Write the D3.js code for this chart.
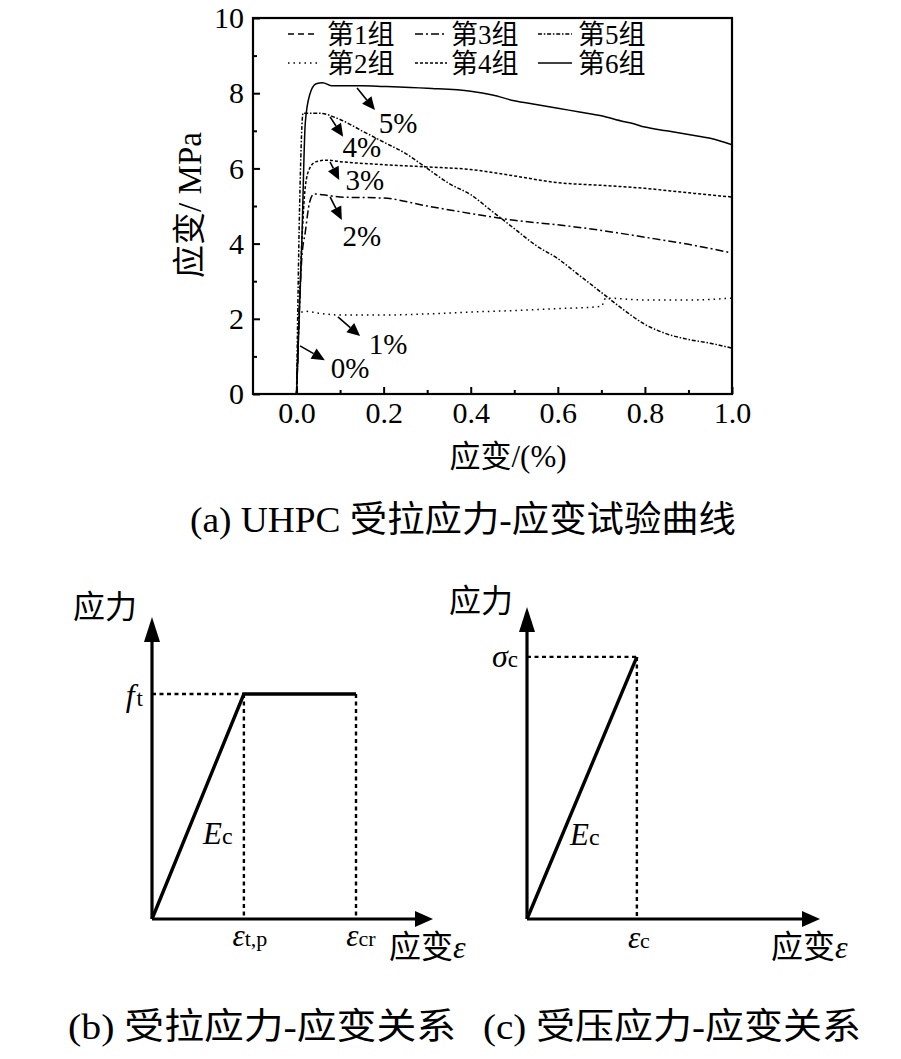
<!DOCTYPE html>
<html><head><meta charset="utf-8">
<script src="https://cdn.jsdelivr.net/npm/d3@7"></script>
<style>
body{margin:0;background:#fff}
svg{display:block}
text{font-family:"Liberation Serif","Times New Roman","Noto Sans CJK SC",serif;fill:#000}
</style>
</head><body>
<svg id="c" width="901" height="1059"></svg>
<script>
// ---------------- data (panel a) ----------------
const groupNames = ["第1组","第2组","第3组","第4组","第5组","第6组"];
const pctLabels  = ["0%","1%","2%","3%","4%","5%"];
const xMajorTicks = [0,0.2,0.4,0.6,0.8,1.0];
const xMinorTicks = [0.1,0.3,0.5,0.7,0.9];
const yMajorTicks = [0,2,4,6,8,10];
const yMinorTicks = [1,3,5,7,9];

const g1 = [[0,0],[0.002,0.6],[0.004,1.3]];
const g2 = [[0,0],[0.004,1.6],[0.008,2.15],[0.02,2.2],[0.05,2.15],[0.1,2.1],[0.2,2.1],[0.3,2.13],[0.4,2.18],[0.5,2.22],[0.6,2.27],[0.7,2.33],[0.71,2.55],[0.8,2.5],[0.9,2.5],[1.0,2.55]];
const g3 = [[0,0],[0.012,3.6],[0.02,4.3],[0.03,5.1],[0.04,5.32],[0.06,5.3],[0.1,5.24],[0.2,5.21],[0.3,5.0],[0.4,4.8],[0.5,4.62],[0.6,4.5],[0.7,4.35],[0.8,4.17],[0.9,3.98],[1.0,3.75]];
const g4 = [[0,0],[0.012,4.0],[0.02,5.5],[0.03,6.0],[0.045,6.18],[0.07,6.22],[0.1,6.18],[0.2,6.1],[0.3,6.04],[0.4,5.97],[0.5,5.8],[0.6,5.62],[0.7,5.55],[0.8,5.47],[0.9,5.35],[1.0,5.24]];
const g5 = [[0,0],[0.008,5.5],[0.015,7.47],[0.05,7.47],[0.1,7.3],[0.15,7.0],[0.2,6.7],[0.25,6.4],[0.3,6.0],[0.35,5.6],[0.4,5.3],[0.45,4.85],[0.5,4.4],[0.55,3.95],[0.6,3.6],[0.65,3.15],[0.7,2.7],[0.75,2.25],[0.8,1.85],[0.85,1.6],[0.9,1.45],[0.95,1.35],[1.0,1.22]];
const g6 = [[0,0],[0.012,4.0],[0.02,7.2],[0.03,7.95],[0.045,8.25],[0.06,8.28],[0.08,8.2],[0.15,8.2],[0.2,8.18],[0.3,8.13],[0.4,8.05],[0.45,7.95],[0.5,7.8],[0.55,7.7],[0.6,7.6],[0.65,7.5],[0.7,7.4],[0.75,7.25],[0.77,7.2],[0.8,7.1],[0.85,7.0],[0.9,6.9],[0.95,6.8],[1.0,6.63]];
const groups = [g1,g2,g3,g4,g5,g6];
const dashes = ["6,4","1.5,4","8,3,2,3","3,2","4,1.8,1.5,1.8",null];

// annotation arrows: [from, tip, label] in data units
const annStart = [[0.008,1.28],[0.095,2.05],[0.077,5.24],[0.077,6.17],[0.077,7.37],[0.139,8.14]];
const annTip   = [[0.065,0.90],[0.146,1.54],[0.104,4.63],[0.098,5.69],[0.107,6.84],[0.180,7.55]];
const annText  = [[0.123,0.69],[0.210,1.33],[0.150,4.20],[0.157,5.69],[0.150,6.57],[0.233,7.21]];

// ---------------- data (panels b, c; schematic units) ----------------
const tensPts = [[0,0],[3.27,7.45],[7.26,7.45]];
const compPts = [[0,0],[3.75,8.4]];

const svg = d3.select("#c");

// ---------------- panel a ----------------
const x = d3.scaleLinear().domain([-0.1,1.0]).range([253,732]);
const y = d3.scaleLinear().domain([0,10]).range([394,18]);

const gA = svg.append("g");

const line = d3.line().x(d=>x(d[0])).y(d=>y(d[1])).curve(d3.curveMonotoneX);
groups.forEach((g,i)=>{
  gA.append("path").attr("d",line(g)).attr("fill","none").attr("stroke","#000")
    .attr("stroke-width",1.5).attr("stroke-dasharray",dashes[i]);
});

const xAxisMajor = d3.axisBottom(x).tickValues(xMajorTicks).tickSize(-7).tickPadding(8).tickFormat(d3.format(".1f"));
const xAxisMinor = d3.axisBottom(x).tickValues(xMinorTicks).tickSize(-4).tickFormat("");
const yAxisMajor = d3.axisLeft(y).tickValues(yMajorTicks).tickSize(-7).tickPadding(9).tickFormat(d3.format("d"));
const yAxisMinor = d3.axisLeft(y).tickValues(yMinorTicks).tickSize(-4).tickFormat("");

function styleAxis(g){
  g.attr("font-family",null);
  g.select(".domain").remove();
  g.selectAll("line").attr("stroke","#000").attr("stroke-width",2);
  g.selectAll("text").attr("font-size",30);
}
gA.append("g").attr("transform","translate(0,394)").call(xAxisMajor).call(styleAxis);
gA.append("g").attr("transform","translate(0,394)").call(xAxisMinor).call(styleAxis);
gA.append("g").attr("transform","translate(253,0)").call(yAxisMajor).call(styleAxis);
gA.append("g").attr("transform","translate(253,0)").call(yAxisMinor).call(styleAxis);

gA.append("rect").attr("x",x(-0.1)).attr("y",y(10)).attr("width",x(1.0)-x(-0.1)).attr("height",y(0)-y(10))
  .attr("fill","none").attr("stroke","#000").attr("stroke-width",2.2);

gA.append("text").attr("x",508).attr("y",456).attr("text-anchor","middle").attr("dominant-baseline","central")
  .attr("font-size",31).text("应变/(%)");
gA.append("text").attr("transform","translate(190,205) rotate(-90)").attr("text-anchor","middle")
  .attr("dominant-baseline","central").attr("font-size",33).text("应变/ MPa");

// legend
const legCols = [[288,317,327],[415,447,451],[538,572,578]];
const legRows = [34,63];
groupNames.forEach((n,i)=>{
  const c = Math.floor(i/2), r = i%2;
  const lc = legCols[c], ly = legRows[r];
  gA.append("line").attr("x1",lc[0]).attr("x2",lc[1]).attr("y1",ly).attr("y2",ly)
    .attr("stroke","#000").attr("stroke-width",1.5).attr("stroke-dasharray",dashes[i]);
  gA.append("text").attr("x",lc[2]).attr("y",ly+1).attr("dominant-baseline","central")
    .attr("font-size",27).text(n);
});

function arrow(g, x1,y1,x2,y2, len, hw, width){
  const dx=x2-x1, dy=y2-y1, L=Math.hypot(dx,dy), ux=dx/L, uy=dy/L;
  const bx=x2-ux*len, by=y2-uy*len;
  g.append("line").attr("x1",x1).attr("y1",y1).attr("x2",bx).attr("y2",by)
    .attr("stroke","#000").attr("stroke-width",width);
  g.append("polygon").attr("points",[[x2,y2],[bx-uy*hw,by+ux*hw],[bx+uy*hw,by-ux*hw]].map(p=>p.join(",")).join(" "))
    .attr("fill","#000");
}
pctLabels.forEach((t,i)=>{
  arrow(gA, x(annStart[i][0]),y(annStart[i][1]),x(annTip[i][0]),y(annTip[i][1]),13,6,1.6);
  gA.append("text").attr("x",x(annText[i][0])).attr("y",y(annText[i][1])).attr("text-anchor","middle")
    .attr("dominant-baseline","central").attr("font-size",29).text(t);
});

svg.append("text").attr("x",463).attr("y",520).attr("text-anchor","middle").attr("dominant-baseline","central")
  .attr("font-size",36).attr("textLength",546).attr("lengthAdjust","spacingAndGlyphs").text("(a) UHPC 受拉应力-应变试验曲线");

// ---------------- schematic panels ----------------
function axesArrows(g, sx, sy){
  const x0=sx(0), y0=sy(0), xe=sx(10), ye=sy(10);
  g.append("line").attr("x1",x0).attr("y1",y0).attr("x2",x0).attr("y2",ye+20).attr("stroke","#000").attr("stroke-width",3.2);
  g.append("line").attr("x1",x0).attr("y1",y0).attr("x2",xe-15).attr("y2",y0).attr("stroke","#000").attr("stroke-width",3.2);
  g.append("polygon").attr("points",`${x0},${ye} ${x0-8},${ye+25} ${x0+8},${ye+25}`).attr("fill","#000");
  g.append("polygon").attr("points",`${xe},${y0} ${xe-18},${y0-8} ${xe-18},${y0+8}`).attr("fill","#000");
}
function epsLabel(g, xc, yb, sub){
  const t = g.append("text").attr("x",xc).attr("y",yb).attr("text-anchor","middle");
  t.append("tspan").attr("font-style","italic").attr("font-size",31).text("ε");
  t.append("tspan").attr("font-size",22).text(sub);
}
function ecLabel(g, xl, yb){
  const t = g.append("text").attr("x",xl).attr("y",yb);
  t.append("tspan").attr("font-style","italic").attr("font-size",31).text("E");
  t.append("tspan").attr("font-size",24).text("c");
}
function strainTitle(g, xl, yb){
  const t = g.append("text").attr("x",xl).attr("y",yb).attr("font-size",32);
  t.append("tspan").text("应变");
  t.append("tspan").attr("font-style","italic").text("ε");
}

// panel b
const xb = d3.scaleLinear().domain([0,10]).range([152,433]);
const yb = d3.scaleLinear().domain([0,10]).range([919,617]);
const gB = svg.append("g");
const dashS = "4,3.5";
gB.append("line").attr("x1",xb(0)).attr("x2",xb(tensPts[1][0])).attr("y1",yb(tensPts[1][1])).attr("y2",yb(tensPts[1][1]))
  .attr("stroke","#000").attr("stroke-width",2.4).attr("stroke-dasharray",dashS);
[1,2].forEach(k=>{
  gB.append("line").attr("x1",xb(tensPts[k][0])).attr("x2",xb(tensPts[k][0])).attr("y1",yb(tensPts[k][1])).attr("y2",yb(0))
    .attr("stroke","#000").attr("stroke-width",2.4).attr("stroke-dasharray",dashS);
});
axesArrows(gB, xb, yb);
gB.append("path").attr("d",d3.line().x(d=>xb(d[0])).y(d=>yb(d[1]))(tensPts)).attr("fill","none")
  .attr("stroke","#000").attr("stroke-width",3.4).attr("stroke-linejoin","miter");
gB.append("text").attr("x",105).attr("y",607).attr("text-anchor","middle").attr("dominant-baseline","central")
  .attr("font-size",32).text("应力");
{
  const t = gB.append("text").attr("x",xb(0)-9).attr("y",yb(tensPts[1][1])+12).attr("text-anchor","end");
  t.append("tspan").attr("font-style","italic").attr("font-size",32).text("f");
  t.append("tspan").attr("font-size",23).attr("dx",2).text("t");
}
ecLabel(gB, 203, 844);
epsLabel(gB, xb(tensPts[1][0])+6, 946, "t,p");
epsLabel(gB, xb(tensPts[2][0])+5, 946, "cr");
strainTitle(gB, 389, 958);

// panel c
const xc = d3.scaleLinear().domain([0,10]).range([527,820]);
const yc = d3.scaleLinear().domain([0,10]).range([919,607]);
const gC = svg.append("g");
gC.append("line").attr("x1",xc(0)).attr("x2",xc(compPts[1][0])).attr("y1",yc(compPts[1][1])).attr("y2",yc(compPts[1][1]))
  .attr("stroke","#000").attr("stroke-width",2.4).attr("stroke-dasharray",dashS);
gC.append("line").attr("x1",xc(compPts[1][0])).attr("x2",xc(compPts[1][0])).attr("y1",yc(compPts[1][1])).attr("y2",yc(0))
  .attr("stroke","#000").attr("stroke-width",2.4).attr("stroke-dasharray",dashS);
axesArrows(gC, xc, yc);
gC.append("path").attr("d",d3.line().x(d=>xc(d[0])).y(d=>yc(d[1]))(compPts)).attr("fill","none")
  .attr("stroke","#000").attr("stroke-width",3.4);
gC.append("text").attr("x",481).attr("y",601).attr("text-anchor","middle").attr("dominant-baseline","central")
  .attr("font-size",32).text("应力");
{
  const t = gC.append("text").attr("x",xc(0)-9).attr("y",yc(compPts[1][1])+10).attr("text-anchor","end");
  t.append("tspan").attr("font-style","italic").attr("font-size",32).text("σ");
  t.append("tspan").attr("font-size",23).text("c");
}
ecLabel(gC, 570, 845);
epsLabel(gC, xc(compPts[1][0])+2, 948, "c");
strainTitle(gC, 771, 958);

svg.append("text").attr("x",68).attr("y",1027).attr("dominant-baseline","central").attr("font-size",36)
  .attr("textLength",388).attr("lengthAdjust","spacingAndGlyphs").text("(b)  受拉应力-应变关系");
svg.append("text").attr("x",483).attr("y",1027).attr("dominant-baseline","central").attr("font-size",36)
  .attr("textLength",378).attr("lengthAdjust","spacingAndGlyphs").text("(c)  受压应力-应变关系");
</script>
</body></html>
